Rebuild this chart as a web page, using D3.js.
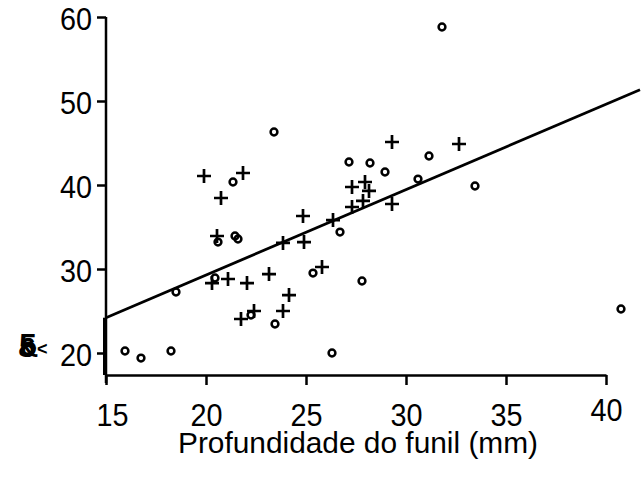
<!DOCTYPE html>
<html>
<head>
<meta charset="utf-8">
<script src="https://cdn.jsdelivr.net/npm/d3@7/dist/d3.min.js"></script>
<style>
  html, body { margin: 0; padding: 0; background: #fff; }
  svg { display: block; font-family: "Liberation Sans", Arial, sans-serif; }
</style>
</head>
<body>
<svg id="chart" width="644" height="480"></svg>
<script>
// Funnel depth (mm) vs. response, two groups
const circleX = [15.95, 16.75, 18.25, 18.5, 20.45, 20.6, 21.35, 21.45, 21.6, 23.4, 22.25, 23.45,
                 25.35, 26.3, 26.7, 27.15, 27.8, 28.2, 28.95, 30.6, 31.15, 31.8, 33.45, 40.75];
const circleY = [20.24, 19.4, 20.24, 27.26, 28.93, 33.21, 40.36, 33.93, 33.57, 46.31, 24.52, 23.45,
                 29.52, 20.0, 34.4, 42.74, 28.57, 42.62, 41.55, 40.71, 43.45, 58.81, 39.88, 25.24];

const plusX = [19.9, 21.85, 20.75, 20.55, 20.3, 21.1, 22.05, 23.15, 21.75, 22.4, 23.85, 24.15, 23.85,
               24.9, 24.85, 25.8, 26.35, 27.3, 27.95, 28.15, 27.3, 27.85, 29.3, 29.3, 32.65];
const plusY = [41.07, 41.43, 38.45, 33.93, 28.33, 28.81, 28.33, 29.4, 24.05, 25.0, 25.0, 26.9, 33.1,
               33.21, 36.31, 30.24, 35.83, 39.76, 40.36, 39.29, 37.38, 38.1, 37.74, 45.12, 44.88];

// Fitted line end points
const fitX = [15, 41.7];
const fitY = [24.2, 51.35];

const xTicks = [15, 20, 25, 30, 35, 40];
const yTicks = [20, 30, 40, 50, 60];
const xTitle = "Profundidade do funil (mm)";

const svg = d3.select("#chart");

const x = d3.scaleLinear().domain([15, 40]).range([106, 606]);
const y = d3.scaleLinear().domain([20, 60]).range([353, 17]);
const xAxisY = 375;
const labelFont = "'Liberation Sans', Arial, sans-serif";
const labelSize = 32;
const squeeze = 0.9;   // narrow tick lettering

// Axes
const axisW = 2.5;
const gX = svg.append("g").attr("transform", `translate(0,${xAxisY})`);
gX.call(d3.axisBottom(x).tickValues(xTicks).tickSize(10).tickSizeOuter(0).tickPadding(18).tickFormat(d3.format("d")));
gX.select(".domain").attr("stroke", "#000").attr("stroke-width", axisW);
gX.selectAll(".tick line").attr("stroke", "#000").attr("stroke-width", axisW);
gX.selectAll(".tick text").attr("font-size", labelSize).attr("fill", "#000")
  .attr("font-family", labelFont)
  .attr("x", d => (d === 15 ? 6 : 0) / squeeze)
  .attr("transform", `scale(${squeeze},1)`)
  .attr("dy", d => d === 40 ? "0.55em" : "0.71em");

const yPad = 14;
const gY = svg.append("g").attr("transform", `translate(${x(15)},0)`);
gY.call(d3.axisLeft(y).tickValues(yTicks).tickSize(9).tickSizeOuter(0).tickPadding(5).tickFormat(d3.format("d")));
gY.select(".domain").attr("stroke", "none");
gY.selectAll(".tick line").attr("stroke", "#000").attr("stroke-width", axisW);
gY.selectAll(".tick text").attr("font-size", labelSize).attr("fill", "#000")
  .attr("font-family", labelFont)
  .attr("x", -yPad / squeeze)
  .attr("transform", `scale(${squeeze},1)`)
  .attr("dy", "0.4em");

// vertical axis line, running down past the horizontal axis
svg.append("line")
  .attr("x1", x(15)).attr("x2", x(15))
  .attr("y1", y(60)).attr("y2", xAxisY + 8)
  .attr("stroke", "#000").attr("stroke-width", axisW);
// heavier segment below the fitted line's start
svg.append("line")
  .attr("x1", x(15) - 1).attr("x2", x(15) - 1)
  .attr("y1", y(fitY[0])).attr("y2", xAxisY)
  .attr("stroke", "#000").attr("stroke-width", 4);

// Fitted line
svg.append("line")
  .attr("x1", x(fitX[0])).attr("y1", y(fitY[0]))
  .attr("x2", x(fitX[1])).attr("y2", y(fitY[1]))
  .attr("stroke", "#000").attr("stroke-width", 2.7);

// Open circles
svg.append("g").selectAll("circle")
  .data(circleX.map((v, i) => [v, circleY[i]]))
  .join("circle")
  .attr("cx", d => x(d[0])).attr("cy", d => y(d[1]))
  .attr("r", 3.4)
  .attr("fill", "none").attr("stroke", "#000").attr("stroke-width", 2.5);

// Plus markers
const arm = 7;
svg.append("g").selectAll("path")
  .data(plusX.map((v, i) => [v, plusY[i]]))
  .join("path")
  .attr("d", d => {
    const cx = x(d[0]), cy = y(d[1]);
    return `M${cx - arm},${cy}H${cx + arm}M${cx},${cy - arm}V${cy + arm}`;
  })
  .attr("stroke", "#000").attr("stroke-width", 2.7).attr("fill", "none");

// Axis title
svg.append("text")
  .attr("x", 358).attr("y", 453)
  .attr("text-anchor", "middle")
  .attr("font-size", 30)
  .attr("font-family", labelFont)
  .attr("textLength", 360)
  .attr("lengthAdjust", "spacingAndGlyphs")
  .attr("fill", "#000")
  .text(xTitle);

// Overlapping stray glyphs left of the vertical axis
const glyphs = svg.append("g").attr("font-weight", "bold").attr("fill", "#000")
  .attr("font-family", labelFont);
glyphs.append("text").attr("x", 19).attr("y", 356).attr("font-size", 32).text("5");
glyphs.append("text").attr("x", 18).attr("y", 357).attr("font-size", 28).text("&");
glyphs.append("text").attr("x", 20).attr("y", 357).attr("font-size", 28).text("6");
glyphs.append("text").attr("x", 37).attr("y", 355).attr("font-size", 18).text("<");
</script>
</body>
</html>
